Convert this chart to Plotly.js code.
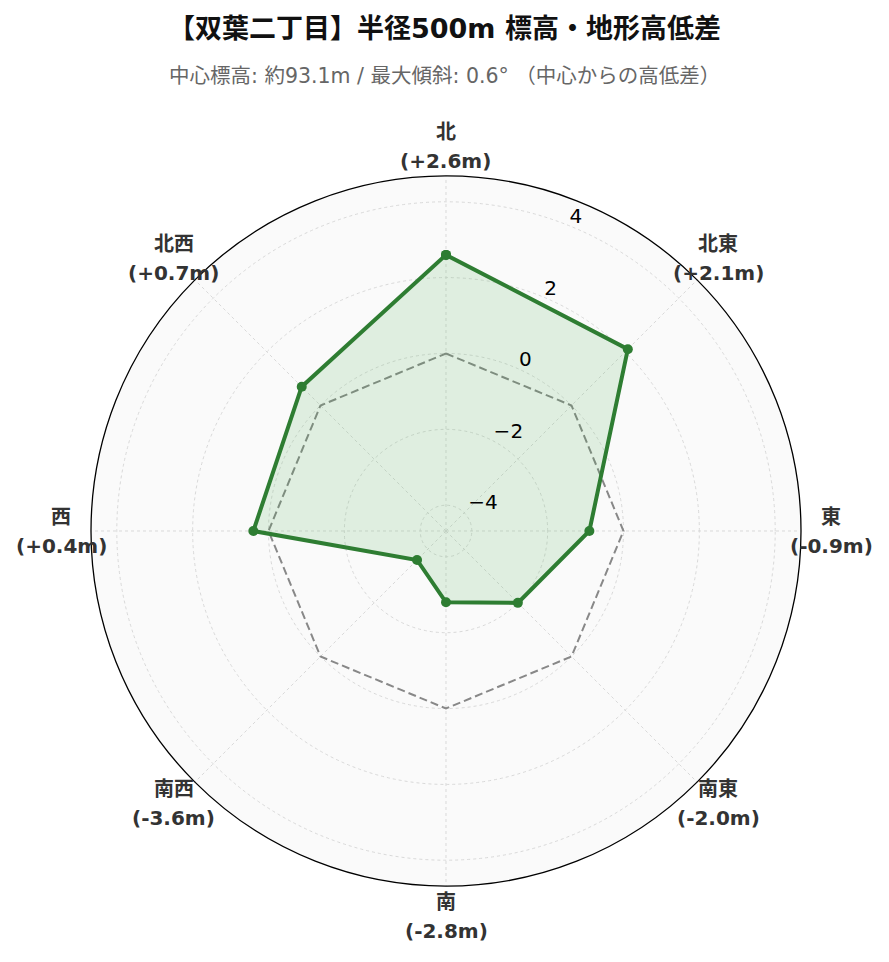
<!DOCTYPE html>
<html>
<head>
<meta charset="utf-8">
<script src="https://cdn.plot.ly/plotly-3.0.1.min.js"></script>
<style>html,body{margin:0;padding:0;background:#fff;}#chart{width:889px;height:962px;}</style>
</head>
<body>
<div id="chart"></div>
<script>
const directions = ["北", "北東", "東", "南東", "南", "南西", "西", "北西"];
const elevDiff = [2.6, 2.1, -0.9, -2.0, -2.8, -3.6, 0.4, 0.7];
const tickLabels = ["(+2.6m)", "(+2.1m)", "(-0.9m)", "(-2.0m)", "(-2.8m)", "(-3.6m)", "(+0.4m)", "(+0.7m)"];
const referenceLevel = [0, 0, 0, 0, 0, 0, 0, 0];
const radialTicks = [-4, -2, 0, 2, 4];
const titleText = "【双葉二丁目】半径500m 標高・地形高低差";
const subtitleText = "中心標高: 約93.1m / 最大傾斜: 0.6° （中心からの高低差）";

const FONT = "DejaVu Sans, 'Noto Sans CJK JP', sans-serif";
const closeLoop = a => a.concat([a[0]]);

const W = 889, H = 962;
const CX = 446, CY = 531, R = 355, LABEL_R = 385, LINE_GAP = 14.5;
const RANGE = [-4.68, 4.68];
const LABEL_SHIFT = 0.3; // radial labels sit slightly outside their grid circle

const traces = [
  {
    type: "scatterpolar",
    r: closeLoop(referenceLevel),
    theta: closeLoop(directions),
    mode: "lines",
    line: {color: "#888888", width: 2, dash: "8px,4px"},
    hoverinfo: "skip",
    showlegend: false
  },
  {
    type: "scatterpolar",
    r: closeLoop(elevDiff),
    theta: closeLoop(directions),
    mode: "lines+markers",
    fill: "toself",
    fillcolor: "rgba(76,175,80,0.15)",
    line: {color: "#2e7d32", width: 4},
    marker: {color: "#2e7d32", size: 10},
    showlegend: false
  },
  {
    type: "scatterpolar",
    subplot: "polar2",
    r: [],
    theta: [],
    mode: "markers",
    hoverinfo: "skip",
    showlegend: false
  }
];

const dirAnnotations = [];
directions.forEach((d, i) => {
  const a = i * 2 * Math.PI / directions.length;
  const x = (CX + LABEL_R * Math.sin(a)) / W;
  const yc = CY - LABEL_R * Math.cos(a);
  [[d, yc - LINE_GAP], [tickLabels[i], yc + LINE_GAP]].forEach(([t, y]) => {
    dirAnnotations.push({
      text: "<b>" + t + "</b>",
      xref: "paper", yref: "paper",
      x: x, y: 1 - y / H,
      xanchor: "center", yanchor: "middle",
      showarrow: false,
      font: {family: FONT, size: 20, color: "#333333"}
    });
  });
});

const domain = {x: [(CX - R)/W, (CX + R)/W], y: [1 - (CY + R)/H, 1 - (CY - R)/H]};

const layout = {
  width: W,
  height: H,
  margin: {l: 0, r: 0, t: 0, b: 0},
  paper_bgcolor: "#ffffff",
  font: {family: FONT, color: "#000"},
  showlegend: false,
  polar: {
    domain: domain,
    bgcolor: "#fafafa",
    angularaxis: {
      type: "category",
      categoryarray: directions,
      direction: "clockwise",
      rotation: 90,
      showticklabels: false,
      ticks: "",
      showline: true,
      linecolor: "#000000",
      linewidth: 1.3,
      showgrid: true,
      gridcolor: "#d9d9d9",
      griddash: "dot",
      gridwidth: 1
    },
    radialaxis: {
      range: RANGE,
      tickmode: "array",
      tickvals: radialTicks,
      showticklabels: false,
      showline: false,
      ticks: "",
      showgrid: true,
      gridcolor: "#d9d9d9",
      griddash: "dot",
      gridwidth: 1
    }
  },
  polar2: {
    domain: domain,
    bgcolor: "rgba(0,0,0,0)",
    angularaxis: {
      direction: "clockwise",
      rotation: 90,
      showticklabels: false,
      showline: false,
      showgrid: false,
      ticks: ""
    },
    radialaxis: {
      range: [RANGE[0] - LABEL_SHIFT, RANGE[1] - LABEL_SHIFT],
      angle: 70.5,
      tickangle: 70.5,
      tickmode: "array",
      tickvals: radialTicks,
      tickfont: {family: FONT, size: 20, color: "#000"},
      showline: false,
      showgrid: false,
      ticks: ""
    }
  },
  annotations: [
    {
      text: "<b>" + titleText + "</b>",
      xref: "paper", yref: "paper",
      x: 0.5, y: 1 - 28/H,
      xanchor: "center", yanchor: "middle",
      showarrow: false,
      font: {family: FONT, size: 27, color: "#111"}
    },
    {
      text: subtitleText,
      xref: "paper", yref: "paper",
      x: 0.5, y: 1 - 76/H,
      xanchor: "center", yanchor: "middle",
      showarrow: false,
      font: {family: FONT, size: 20.5, color: "#666"}
    }
  ].concat(dirAnnotations)
};

Plotly.newPlot("chart", traces, layout, {displayModeBar: false, staticPlot: true});
</script>
</body>
</html>
